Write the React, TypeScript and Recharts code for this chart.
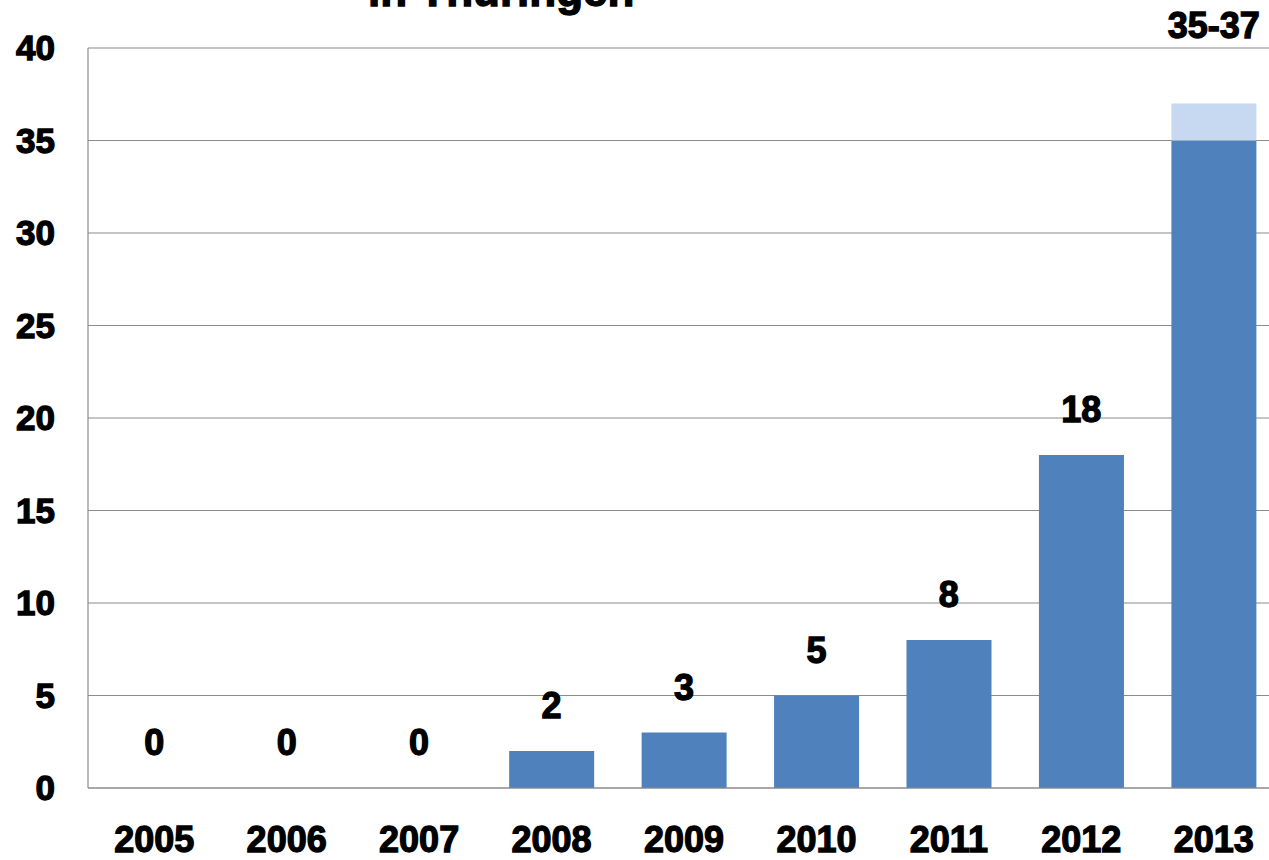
import React from 'react';
import { ComposedChart, Bar, Line, XAxis, YAxis, CartesianGrid, LabelList } from 'recharts';

// Years shown on the category axis
const years = ['2005', '2006', '2007', '2008', '2009', '2010', '2011', '2012', '2013'];
// Confirmed count per year
const counts = [0, 0, 0, 2, 3, 5, 8, 18, 35];
// Additional upper estimate stacked on top of the confirmed count
const upperExtra = [0, 0, 0, 0, 0, 0, 0, 0, 2];
// Text printed above each bar
const valueLabels = ['0', '0', '0', '2', '3', '5', '8', '18', '35-37'];
// Value axis ticks
const yTicks = [0, 5, 10, 15, 20, 25, 30, 35, 40];

const titleText = 'in Thüringen';

const data = years.map((year, i) => ({
  year,
  count: counts[i],
  extra: upperExtra[i],
  total: counts[i] + upperExtra[i],
  label: valueLabels[i],
}));

const FONT = '"Liberation Sans", Arial, sans-serif';
const BLUE = '#4f81bd';
const LIGHT_BLUE = '#c6d9f1';
const GRID = '#8c8c8c';

const heavyText = {
  fontFamily: FONT,
  fontWeight: 700,
  fill: '#000',
  stroke: '#000',
  strokeWidth: 1.3,
};

// Value label above the top of each bar stack; the range label sits higher
const TopLabel = (props: any) => {
  const { x, y, index } = props;
  const isRange = upperExtra[index] > 0;
  return (
    <text
      x={x}
      y={isRange ? y - 66 : y - 33}
      textAnchor="middle"
      style={{ ...heavyText, fontSize: 36 }}
    >
      {valueLabels[index]}
    </text>
  );
};

export default function App() {
  return (
    <div style={{ position: 'absolute', left: 0, top: 0, width: 1269, height: 860, overflow: 'hidden', background: '#fff' }}>
      <ComposedChart
        width={1290}
        height={860}
        data={data}
        margin={{ top: 48, right: 10, left: 0, bottom: 0 }}
        barCategoryGap="18%"
      >
        <CartesianGrid vertical={false} stroke={GRID} strokeWidth={1.2} />
        <XAxis
          dataKey="year"
          height={72}
          tickLine={false}
          tickSize={0}
          tickMargin={38}
          axisLine={{ stroke: GRID, strokeWidth: 1.2 }}
          tick={{ ...heavyText, fontSize: 36 }}
          interval={0}
        />
        <YAxis
          width={88}
          domain={[0, 40]}
          ticks={yTicks}
          tickLine={false}
          tickSize={0}
          tickMargin={33}
          axisLine={{ stroke: GRID, strokeWidth: 1.2 }}
          tick={{ ...heavyText, fontSize: 35 }}
          interval={0}
        />
        <Bar dataKey="count" stackId="a" fill={BLUE} isAnimationActive={false} />
        <Bar dataKey="extra" stackId="a" fill={LIGHT_BLUE} isAnimationActive={false} />
        {/* invisible series at the stack top that carries the value labels */}
        <Line
          dataKey="total"
          stroke="none"
          dot={false}
          activeDot={false}
          legendType="none"
          isAnimationActive={false}
        >
          <LabelList dataKey="label" content={TopLabel} />
        </Line>
      </ComposedChart>
      <svg width={1269} height={60} style={{ position: 'absolute', left: 0, top: 0, pointerEvents: 'none' }}>
        <text x={368} y={6} style={{ ...heavyText, fontSize: 44 }}>
          {titleText}
        </text>
      </svg>
    </div>
  );
}
